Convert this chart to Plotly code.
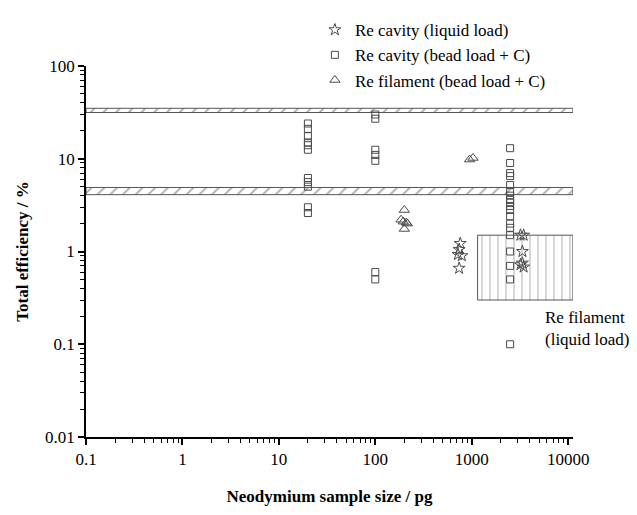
import plotly.graph_objects as go

# Re cavity, liquid load (stars)
liq_x = [760, 740, 720, 790, 740, 3200, 3450, 3350, 3200, 3450, 3350]
liq_y = [1.22, 1.05, 0.93, 0.90, 0.66, 1.5, 1.5, 1.0, 0.72, 0.68, 0.75]

# Re cavity, bead load + C (squares)
bead_x = ([20] * 11 + [100] * 7 + [2500] * 19)
bead_y = ([24, 21, 17.5, 15, 14, 12.5, 6.2, 5.6, 5.0, 3.0, 2.6]
          + [30, 27, 12.5, 11, 9.5, 0.6, 0.5]
          + [13, 9, 7, 6.5, 5.2, 4.4, 4.0, 3.6, 3.4, 3.1, 2.8, 2.4, 2.0, 1.8,
             1.5, 1.0, 0.7, 0.5, 0.1])

# Re filament, bead load + C (triangles)
fil_x = [950, 1030, 200, 185, 195, 210, 200, 215]
fil_y = [9.8, 10.2, 2.8, 2.2, 2.1, 2.05, 1.75, 2.0]

# reference efficiency bands
band_x = [0.1, 11200]
re_c_band = [31.5, 35]
re_band = [4.1, 4.9]

# Re filament (liquid load) range
fil_liq_x = [1150, 11200]
fil_liq_y = [0.3, 1.5]

x_ticks = [0.1, 1, 10, 100, 1000, 10000]
x_labels = ["0.1", "1", "10", "100", "1000", "10000"]
y_ticks = [0.01, 0.1, 1, 10, 100]
y_labels = ["0.01", "0.1", "1", "10", "100"]

FONT = "'Liberation Serif', 'Times New Roman', Times, serif"
MC = "#4a4a4a"

fig = go.Figure()


def box(xs, ys):
    return [xs[0], xs[1], xs[1], xs[0], xs[0]], [ys[0], ys[0], ys[1], ys[1], ys[0]]


for lo_hi in (re_c_band, re_band):
    bx, by = box(band_x, lo_hi)
    fig.add_trace(go.Scatter(
        x=bx, y=by, mode="lines", fill="toself",
        line=dict(color="#555", width=1),
        fillcolor="white",
        fillpattern=dict(shape="/", fgcolor="#555", bgcolor="white",
                         size=9, solidity=0.2),
        showlegend=False, hoverinfo="skip"))

rx, ry = box(fil_liq_x, fil_liq_y)
fig.add_trace(go.Scatter(
    x=rx, y=ry, mode="lines", fill="toself",
    line=dict(color="#555", width=1),
    fillcolor="white",
    fillpattern=dict(shape="|", fgcolor="#777", bgcolor="white",
                     size=8, solidity=0.15),
    showlegend=False, hoverinfo="skip"))

fig.add_trace(go.Scatter(
    x=liq_x, y=liq_y, mode="markers", name="Re cavity (liquid load)",
    marker=dict(symbol="star-open", size=9, color=MC, line=dict(width=1))))
fig.add_trace(go.Scatter(
    x=bead_x, y=bead_y, mode="markers", name="Re cavity (bead load + C)",
    marker=dict(symbol="square-open", size=7, color=MC, line=dict(width=1))))
fig.add_trace(go.Scatter(
    x=fil_x, y=fil_y, mode="markers", name="Re filament (bead load + C)",
    marker=dict(symbol="triangle-up-open", size=9, color=MC, line=dict(width=1))))

fig.add_annotation(x=4.155, y=1.52, xref="x", yref="y", text="Re + C",
                   showarrow=False, xanchor="left", yanchor="middle",
                   font=dict(family=FONT, size=17, color="black"))
fig.add_annotation(x=4.155, y=0.65, xref="x", yref="y", text="Re",
                   showarrow=False, xanchor="left", yanchor="middle",
                   font=dict(family=FONT, size=17, color="black"))
fig.add_annotation(x=3.74, y=-0.83, xref="x", yref="y",
                   text="Re filament<br>(liquid load)",
                   showarrow=False, xanchor="left", yanchor="middle", align="left",
                   font=dict(family=FONT, size=17, color="black"))

axis_common = dict(
    type="log", showline=True, linecolor="black", linewidth=1.5,
    ticks="outside", ticklen=6, tickwidth=1.5, tickcolor="black",
    showgrid=False, zeroline=False,
    tickfont=dict(family=FONT, size=17, color="black"),
    minor=dict(ticks="outside", ticklen=4, tickwidth=1.2, tickcolor="black",
               dtick="D1", showgrid=False),
)

fig.update_xaxes(
    **axis_common, range=[-1, 4.05], tickvals=x_ticks, ticktext=x_labels,
    title=dict(text="<b>Neodymium sample size / pg</b>",
               font=dict(family=FONT, size=17, color="black"), standoff=22))
fig.update_yaxes(
    **axis_common, range=[-2, 2], tickvals=y_ticks, ticktext=y_labels,
    title=dict(text="<b>Total efficiency / %</b>",
               font=dict(family=FONT, size=17, color="black"), standoff=12))

fig.update_layout(
    width=637, height=515,
    margin=dict(l=86, r=64, t=59, b=65),
    paper_bgcolor="white", plot_bgcolor="white",
    font=dict(family=FONT, size=17, color="black"),
    legend=dict(x=0.47, y=1.145, xanchor="left", yanchor="top",
                bgcolor="rgba(0,0,0,0)", tracegroupgap=0,
                font=dict(family=FONT, size=17, color="black")),
)

fig.write_html("out.html")
